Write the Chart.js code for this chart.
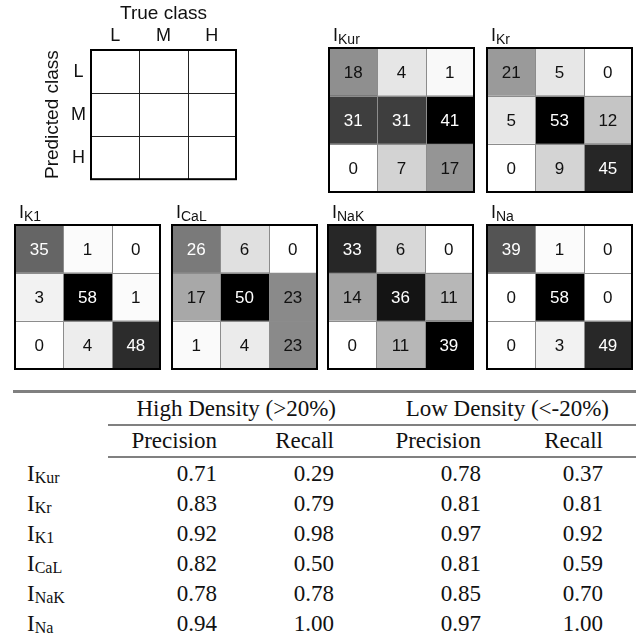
<!DOCTYPE html>
<html>
<head>
<meta charset="utf-8">
<title>Confusion matrices per current</title>
<script src="https://cdn.jsdelivr.net/npm/chart.js@4.4.1/dist/chart.umd.min.js"></script>
<style>
  body { margin: 0; background: #fff; width: 636px; height: 639px; position: relative; overflow: hidden; }
  canvas { position: absolute; }
  .tx { position: absolute; font-family: "Liberation Serif", "Times New Roman", serif; font-size: 23px; color: #111; white-space: nowrap; }
  .tx .sub { font-size: 16px; line-height: 1; vertical-align: -2px; }
  .rule { position: absolute; background: #808080; }
</style>
</head>
<body>
<canvas id="legendChart"></canvas>
<canvas id="chartKur"></canvas>
<canvas id="chartKr"></canvas>
<canvas id="chartK1"></canvas>
<canvas id="chartCaL"></canvas>
<canvas id="chartNaK"></canvas>
<canvas id="chartNa"></canvas>
<div id="table"></div>
<script>
const classLabels = ['L', 'M', 'H'];
const currentNames = ['Kur', 'Kr', 'K1', 'CaL', 'NaK', 'Na'];

// rows = predicted class (L, M, H), columns = true class (L, M, H)
const countsKur = [[18, 4, 1], [31, 31, 41], [0, 7, 17]];
const countsKr  = [[21, 5, 0], [5, 53, 12], [0, 9, 45]];
const countsK1  = [[35, 1, 0], [3, 58, 1], [0, 4, 48]];
const countsCaL = [[26, 6, 0], [17, 50, 23], [1, 4, 23]];
const countsNaK = [[33, 6, 0], [14, 36, 11], [0, 11, 39]];
const countsNa  = [[39, 1, 0], [0, 58, 0], [0, 3, 49]];

const highPrecision = [0.71, 0.83, 0.92, 0.82, 0.78, 0.94];
const highRecall    = [0.29, 0.79, 0.98, 0.50, 0.78, 1.00];
const lowPrecision  = [0.78, 0.81, 0.97, 0.81, 0.85, 0.97];
const lowRecall     = [0.37, 0.81, 0.92, 0.59, 0.70, 1.00];

const matrixCounts = [countsKur, countsKr, countsK1, countsCaL, countsNaK, countsNa];

// where each matrix box sits on the page (left, top)
const boxPos = { Kur: [329, 48], Kr: [487, 48], K1: [15, 225], CaL: [172, 225], NaK: [328, 225], Na: [487, 225] };
const BOX_W = 145, BOX_H = 144;

Chart.defaults.font.family = '"Liberation Sans", Arial, sans-serif';
Chart.defaults.color = '#111';

function buildDatasets(counts) {
    const max = counts ? Math.max(...counts.flat()) : 1;
    return classLabels.map((trueCls, j) => ({
        label: trueCls,
        data: classLabels.map((predCls, i) => ({ y: predCls, x: 1, count: counts ? counts[i][j] : null, max: max })),
        backgroundColor: ctx => {
            if (!ctx.raw || ctx.raw.count === null) return '#fff';
            const g = Math.round(255 * (1 - ctx.raw.count / max));
            return `rgb(${g},${g},${g})`;
        },
        borderWidth: 0,
        barPercentage: 1,
        categoryPercentage: 1
    }));
}

const matrixPlugin = {
    id: 'matrixPlugin',
    afterDatasetsDraw(chart, args, opts) {
        const { ctx, chartArea: a, scales: { x, y } } = chart;
        ctx.save();

        // counts inside the cells
        ctx.font = '17px "Liberation Sans", Arial, sans-serif';
        ctx.textAlign = 'center';
        ctx.textBaseline = 'middle';
        chart.data.datasets.forEach((ds, di) => {
            chart.getDatasetMeta(di).data.forEach((bar, i) => {
                const raw = ds.data[i];
                if (raw.count === null) return;
                const p = bar.getCenterPoint();
                ctx.fillStyle = raw.count / raw.max > 0.5 ? '#fff' : '#111';
                ctx.fillText(String(raw.count), p.x, p.y + 1);
            });
        });

        // inner cell lines
        ctx.strokeStyle = opts.gridColor || '#8c8c8c';
        ctx.lineWidth = 1;
        ctx.beginPath();
        for (let v = 1; v < classLabels.length; v++) {
            const px = Math.round(x.getPixelForValue(v)) + 0.5;
            ctx.moveTo(px, a.top);
            ctx.lineTo(px, a.bottom);
        }
        for (let i = 1; i < classLabels.length; i++) {
            const py = Math.round((y.getPixelForValue(i - 1) + y.getPixelForValue(i)) / 2) + 0.5;
            ctx.moveTo(a.left, py);
            ctx.lineTo(a.right, py);
        }
        ctx.stroke();

        // outer frame
        ctx.lineWidth = 2;
        ctx.strokeStyle = '#000';
        ctx.strokeRect(a.left, a.top, a.right - a.left, a.bottom - a.top);

        // title I with subscript
        if (opts.name) {
            ctx.fillStyle = '#111';
            ctx.textAlign = 'left';
            ctx.textBaseline = 'alphabetic';
            ctx.font = '18px "Liberation Sans", Arial, sans-serif';
            ctx.fillText('I', a.left + 4, a.top - 7);
            const w = ctx.measureText('I').width;
            ctx.font = '14px "Liberation Sans", Arial, sans-serif';
            ctx.fillText(opts.name, a.left + 4 + w, a.top - 4);
        }
        ctx.restore();
    }
};

function baseOptions() {
    return {
        indexAxis: 'y',
        responsive: false,
        animation: false,
        devicePixelRatio: 1,
        events: [],
        plugins: { legend: { display: false }, tooltip: { enabled: false } }
    };
}

// legend matrix with the axis names
const legendCanvas = document.getElementById('legendChart');
legendCanvas.width = 201; legendCanvas.height = 195;
legendCanvas.style.left = '37px'; legendCanvas.style.top = '0px';
const legendOpts = baseOptions();
legendOpts.layout = { padding: { top: 2, right: 2, bottom: 2, left: 0 } };
legendOpts.plugins.matrixPlugin = { gridColor: '#222' };
legendOpts.scales = {
    x: {
        type: 'linear', position: 'top', stacked: true, min: 0, max: classLabels.length,
        afterBuildTicks: s => { s.ticks = classLabels.map((c, i) => ({ value: i + 0.5 })); },
        afterFit: s => { s.height = 48; },
        ticks: { callback: (v, i) => classLabels[i], padding: 3, autoSkip: false, maxRotation: 0, font: { size: 18 } },
        grid: { display: false, drawTicks: false },
        border: { display: false },
        title: { display: true, text: 'True class', font: { size: 19 }, padding: { top: 0, bottom: 0 } }
    },
    y: {
        stacked: true,
        afterFit: s => { s.width = 54; },
        ticks: { padding: 5, crossAlign: 'center', font: { size: 18 } },
        grid: { display: false, drawTicks: false },
        border: { display: false },
        title: { display: true, text: 'Predicted class', font: { size: 19 } }
    }
};
new Chart(legendCanvas, {
    type: 'bar',
    data: { labels: classLabels, datasets: buildDatasets(null) },
    options: legendOpts,
    plugins: [matrixPlugin]
});

// one heat map per current
currentNames.forEach((name, k) => {
    const cv = document.getElementById('chart' + name);
    const [bx, by] = boxPos[name];
    cv.width = BOX_W + 4; cv.height = BOX_H + 30;
    cv.style.left = (bx - 2) + 'px'; cv.style.top = (by - 28) + 'px';
    const opts = baseOptions();
    opts.layout = { padding: { top: 28, right: 2, bottom: 2, left: 2 } };
    opts.plugins.matrixPlugin = { name: name, gridColor: '#8c8c8c' };
    opts.scales = {
        x: { display: false, stacked: true, min: 0, max: classLabels.length },
        y: { display: false, stacked: true }
    };
    new Chart(cv, {
        type: 'bar',
        data: { labels: classLabels, datasets: buildDatasets(matrixCounts[k]) },
        options: opts,
        plugins: [matrixPlugin]
    });
});

// precision / recall table
const table = document.getElementById('table');
function addRule(left, top, width, height) {
    const d = document.createElement('div');
    d.className = 'rule';
    Object.assign(d.style, { left: left + 'px', top: top + 'px', width: width + 'px', height: height + 'px' });
    table.appendChild(d);
}
function addText(html, right, top, height, left) {
    const d = document.createElement('div');
    d.className = 'tx';
    d.innerHTML = html;
    d.style.top = top + 'px';
    d.style.height = height + 'px';
    d.style.lineHeight = height + 'px';
    if (left !== undefined) {
        d.style.left = left + 'px';
    } else {
        d.style.left = (right - 260) + 'px';
        d.style.width = '260px';
        d.style.textAlign = 'right';
    }
    table.appendChild(d);
}

const colRight = [217, 334, 481, 603];
addRule(13, 390, 623, 3);
addText('High Density (&gt;20%)', 336, 393, 31);
addText('Low Density (&lt;-20%)', 609, 393, 31);
addRule(108, 424, 528, 2);
['Precision', 'Recall', 'Precision', 'Recall'].forEach((h, c) => addText(h, colRight[c], 426, 30));
addRule(108, 456, 528, 2);
currentNames.forEach((name, r) => {
    const top = 459 + r * 30;
    addText('I<span class="sub">' + name + '</span>', null, top, 30, 27);
    [highPrecision, highRecall, lowPrecision, lowRecall].forEach((col, c) => {
        addText(col[r].toFixed(2), colRight[c], top, 30);
    });
});
</script>
</body>
</html>
